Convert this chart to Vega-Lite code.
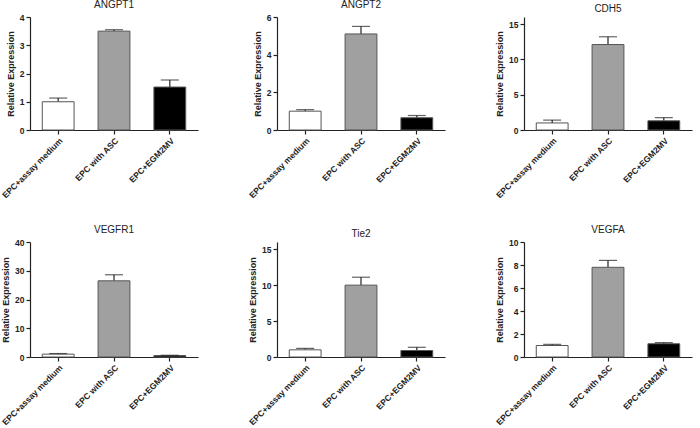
{
  "$schema": "https://vega.github.io/schema/vega-lite/v6.json",
  "background": "white",
  "padding": {"left": 0, "top": 0, "right": 2, "bottom": 2},
  "config": {
    "font": "Liberation Sans",
    "view": {"stroke": null},
    "axis": {"grid": false, "domainColor": "#222", "tickColor": "#222", "labelColor": "#222", "titleColor": "#222", "labelFont": "Liberation Sans", "titleFont": "Liberation Sans", "labelFontWeight": "bold", "labelFontSize": 8.5, "titleFontSize": 9, "titleFontWeight": "bold", "domainWidth": 1.2, "tickWidth": 1.2, "tickSize": 4, "labelOverlap": false},
    "axisX": {"labelAngle": -45, "labelFontSize": 8.5, "labelPadding": 2},
    "title": {"fontSize": 10, "fontWeight": "normal", "color": "#222", "font": "Liberation Sans", "offset": 3}
  },
  "datasets": {
    "expr": [
      {"gene": "ANGPT1", "group": "EPC+assay medium", "mean": 1.0, "upper": 1.13},
      {"gene": "ANGPT1", "group": "EPC with ASC", "mean": 3.5, "upper": 3.55},
      {"gene": "ANGPT1", "group": "EPC+EGM2MV", "mean": 1.52, "upper": 1.77},
      {"gene": "ANGPT2", "group": "EPC+assay medium", "mean": 1.0, "upper": 1.08},
      {"gene": "ANGPT2", "group": "EPC with ASC", "mean": 5.1, "upper": 5.5},
      {"gene": "ANGPT2", "group": "EPC+EGM2MV", "mean": 0.65, "upper": 0.77},
      {"gene": "CDH5", "group": "EPC+assay medium", "mean": 1.0, "upper": 1.4},
      {"gene": "CDH5", "group": "EPC with ASC", "mean": 12.1, "upper": 13.2},
      {"gene": "CDH5", "group": "EPC+EGM2MV", "mean": 1.3, "upper": 1.75},
      {"gene": "VEGFR1", "group": "EPC+assay medium", "mean": 1.0, "upper": 1.2},
      {"gene": "VEGFR1", "group": "EPC with ASC", "mean": 26.5, "upper": 28.6},
      {"gene": "VEGFR1", "group": "EPC+EGM2MV", "mean": 0.5, "upper": 0.6},
      {"gene": "Tie2", "group": "EPC+assay medium", "mean": 1.0, "upper": 1.2},
      {"gene": "Tie2", "group": "EPC with ASC", "mean": 10.0, "upper": 11.1},
      {"gene": "Tie2", "group": "EPC+EGM2MV", "mean": 0.9, "upper": 1.35},
      {"gene": "VEGFA", "group": "EPC+assay medium", "mean": 1.0, "upper": 1.1},
      {"gene": "VEGFA", "group": "EPC with ASC", "mean": 7.8, "upper": 8.4},
      {"gene": "VEGFA", "group": "EPC+EGM2MV", "mean": 1.15, "upper": 1.25}
    ]
  },
  "bounds": "flush",
  "columns": 3,
  "spacing": {"row": 112, "column": 79},
  "concat": [
    {
      "width": 168, "height": 113, "title": "ANGPT1",
      "data": {"name": "expr"},
      "transform": [{"filter": "datum.gene === 'ANGPT1'"}],
      "encoding": {"x": {"field": "group", "type": "nominal", "sort": ["EPC+assay medium", "EPC with ASC", "EPC+EGM2MV"], "title": null, "scale": {"paddingInner": 0.43, "paddingOuter": 0.22}}},
      "layer": [
        {"mark": {"type": "rule", "stroke": "#222", "strokeWidth": 1.2}, "encoding": {"y": {"field": "mean", "type": "quantitative", "scale": {"domain": [0, 4]}, "axis": {"values": [0, 1, 2, 3, 4], "title": "Relative Expression"}}, "y2": {"field": "upper"}}},
        {"mark": {"type": "bar", "stroke": "#555", "strokeWidth": 1}, "encoding": {"y": {"field": "mean", "type": "quantitative", "axis": {"values": [0, 1, 2, 3, 4], "title": "Relative Expression"}}, "fill": {"field": "group", "type": "nominal", "scale": {"domain": ["EPC+assay medium", "EPC with ASC", "EPC+EGM2MV"], "range": ["#ffffff", "#a0a0a0", "#000000"]}, "legend": null}}},
        {"mark": {"type": "tick", "size": 18, "thickness": 1.2, "color": "#222"}, "encoding": {"y": {"field": "upper", "type": "quantitative", "axis": {"values": [0, 1, 2, 3, 4], "title": "Relative Expression"}}}}
      ]
    },
    {
      "width": 168, "height": 113, "title": "ANGPT2",
      "data": {"name": "expr"},
      "transform": [{"filter": "datum.gene === 'ANGPT2'"}],
      "encoding": {"x": {"field": "group", "type": "nominal", "sort": ["EPC+assay medium", "EPC with ASC", "EPC+EGM2MV"], "title": null, "scale": {"paddingInner": 0.43, "paddingOuter": 0.22}}},
      "layer": [
        {"mark": {"type": "rule", "stroke": "#222", "strokeWidth": 1.2}, "encoding": {"y": {"field": "mean", "type": "quantitative", "scale": {"domain": [0, 6]}, "axis": {"values": [0, 2, 4, 6], "title": "Relative Expression"}}, "y2": {"field": "upper"}}},
        {"mark": {"type": "bar", "stroke": "#555", "strokeWidth": 1}, "encoding": {"y": {"field": "mean", "type": "quantitative", "axis": {"values": [0, 2, 4, 6], "title": "Relative Expression"}}, "fill": {"field": "group", "type": "nominal", "scale": {"domain": ["EPC+assay medium", "EPC with ASC", "EPC+EGM2MV"], "range": ["#ffffff", "#a0a0a0", "#000000"]}, "legend": null}}},
        {"mark": {"type": "tick", "size": 18, "thickness": 1.2, "color": "#222"}, "encoding": {"y": {"field": "upper", "type": "quantitative", "axis": {"values": [0, 2, 4, 6], "title": "Relative Expression"}}}}
      ]
    },
    {
      "width": 168, "height": 113, "title": "CDH5",
      "data": {"name": "expr"},
      "transform": [{"filter": "datum.gene === 'CDH5'"}],
      "encoding": {"x": {"field": "group", "type": "nominal", "sort": ["EPC+assay medium", "EPC with ASC", "EPC+EGM2MV"], "title": null, "scale": {"paddingInner": 0.43, "paddingOuter": 0.22}}},
      "layer": [
        {"mark": {"type": "rule", "stroke": "#222", "strokeWidth": 1.2}, "encoding": {"y": {"field": "mean", "type": "quantitative", "scale": {"domain": [0, 15]}, "axis": {"values": [0, 5, 10, 15], "title": "Relative Expression"}}, "y2": {"field": "upper"}}},
        {"mark": {"type": "bar", "stroke": "#555", "strokeWidth": 1}, "encoding": {"y": {"field": "mean", "type": "quantitative", "axis": {"values": [0, 5, 10, 15], "title": "Relative Expression"}}, "fill": {"field": "group", "type": "nominal", "scale": {"domain": ["EPC+assay medium", "EPC with ASC", "EPC+EGM2MV"], "range": ["#ffffff", "#a0a0a0", "#000000"]}, "legend": null}}},
        {"mark": {"type": "tick", "size": 18, "thickness": 1.2, "color": "#222"}, "encoding": {"y": {"field": "upper", "type": "quantitative", "axis": {"values": [0, 5, 10, 15], "title": "Relative Expression"}}}}
      ]
    },
    {
      "width": 168, "height": 115, "title": "VEGFR1",
      "data": {"name": "expr"},
      "transform": [{"filter": "datum.gene === 'VEGFR1'"}],
      "encoding": {"x": {"field": "group", "type": "nominal", "sort": ["EPC+assay medium", "EPC with ASC", "EPC+EGM2MV"], "title": null, "scale": {"paddingInner": 0.43, "paddingOuter": 0.22}}},
      "layer": [
        {"mark": {"type": "rule", "stroke": "#222", "strokeWidth": 1.2}, "encoding": {"y": {"field": "mean", "type": "quantitative", "scale": {"domain": [0, 40]}, "axis": {"values": [0, 10, 20, 30, 40], "title": "Relative Expression"}}, "y2": {"field": "upper"}}},
        {"mark": {"type": "bar", "stroke": "#555", "strokeWidth": 1}, "encoding": {"y": {"field": "mean", "type": "quantitative", "axis": {"values": [0, 10, 20, 30, 40], "title": "Relative Expression"}}, "fill": {"field": "group", "type": "nominal", "scale": {"domain": ["EPC+assay medium", "EPC with ASC", "EPC+EGM2MV"], "range": ["#ffffff", "#a0a0a0", "#000000"]}, "legend": null}}},
        {"mark": {"type": "tick", "size": 18, "thickness": 1.2, "color": "#222"}, "encoding": {"y": {"field": "upper", "type": "quantitative", "axis": {"values": [0, 10, 20, 30, 40], "title": "Relative Expression"}}}}
      ]
    },
    {
      "width": 168, "height": 115, "title": "Tie2",
      "data": {"name": "expr"},
      "transform": [{"filter": "datum.gene === 'Tie2'"}],
      "encoding": {"x": {"field": "group", "type": "nominal", "sort": ["EPC+assay medium", "EPC with ASC", "EPC+EGM2MV"], "title": null, "scale": {"paddingInner": 0.43, "paddingOuter": 0.22}}},
      "layer": [
        {"mark": {"type": "rule", "stroke": "#222", "strokeWidth": 1.2}, "encoding": {"y": {"field": "mean", "type": "quantitative", "scale": {"domain": [0, 15]}, "axis": {"values": [0, 5, 10, 15], "title": "Relative Expression"}}, "y2": {"field": "upper"}}},
        {"mark": {"type": "bar", "stroke": "#555", "strokeWidth": 1}, "encoding": {"y": {"field": "mean", "type": "quantitative", "axis": {"values": [0, 5, 10, 15], "title": "Relative Expression"}}, "fill": {"field": "group", "type": "nominal", "scale": {"domain": ["EPC+assay medium", "EPC with ASC", "EPC+EGM2MV"], "range": ["#ffffff", "#a0a0a0", "#000000"]}, "legend": null}}},
        {"mark": {"type": "tick", "size": 18, "thickness": 1.2, "color": "#222"}, "encoding": {"y": {"field": "upper", "type": "quantitative", "axis": {"values": [0, 5, 10, 15], "title": "Relative Expression"}}}}
      ]
    },
    {
      "width": 168, "height": 115, "title": "VEGFA",
      "data": {"name": "expr"},
      "transform": [{"filter": "datum.gene === 'VEGFA'"}],
      "encoding": {"x": {"field": "group", "type": "nominal", "sort": ["EPC+assay medium", "EPC with ASC", "EPC+EGM2MV"], "title": null, "scale": {"paddingInner": 0.43, "paddingOuter": 0.22}}},
      "layer": [
        {"mark": {"type": "rule", "stroke": "#222", "strokeWidth": 1.2}, "encoding": {"y": {"field": "mean", "type": "quantitative", "scale": {"domain": [0, 10]}, "axis": {"values": [0, 2, 4, 6, 8, 10], "title": "Relative Expression"}}, "y2": {"field": "upper"}}},
        {"mark": {"type": "bar", "stroke": "#555", "strokeWidth": 1}, "encoding": {"y": {"field": "mean", "type": "quantitative", "axis": {"values": [0, 2, 4, 6, 8, 10], "title": "Relative Expression"}}, "fill": {"field": "group", "type": "nominal", "scale": {"domain": ["EPC+assay medium", "EPC with ASC", "EPC+EGM2MV"], "range": ["#ffffff", "#a0a0a0", "#000000"]}, "legend": null}}},
        {"mark": {"type": "tick", "size": 18, "thickness": 1.2, "color": "#222"}, "encoding": {"y": {"field": "upper", "type": "quantitative", "axis": {"values": [0, 2, 4, 6, 8, 10], "title": "Relative Expression"}}}}
      ]
    }
  ]
}
